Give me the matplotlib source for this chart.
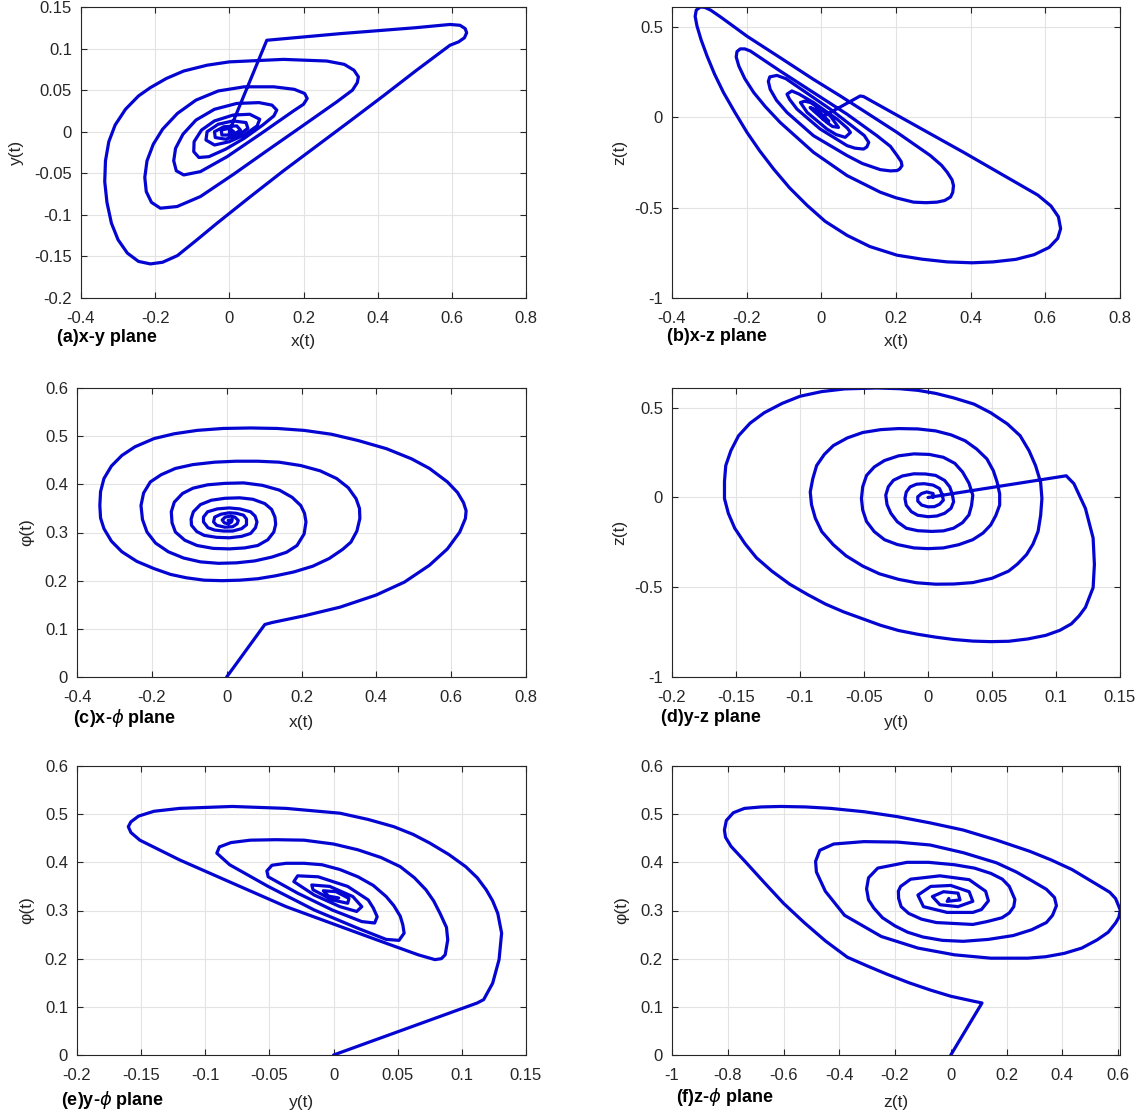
import numpy as np
import matplotlib
matplotlib.use("Agg")
import matplotlib.pyplot as plt

plt.rcParams['font.family'] = ['Liberation Sans', 'DejaVu Sans']
plt.rcParams['axes.unicode_minus'] = False

# trajectory points
xy_path = [(0.0, 0.0), (0.012, 0.014), (0.101, 0.110), (0.300, 0.118), (0.500, 0.125), (0.595, 0.129),
           (0.622, 0.128), (0.636, 0.124), (0.640, 0.119), (0.634, 0.113), (0.618, 0.108), (0.595, 0.104),
           (0.505, 0.074), (0.415, 0.043), (0.326, 0.013), (0.236, -0.017), (0.146, -0.047), (0.057, -0.078),
           (-0.033, -0.110), (-0.090, -0.131), (-0.140, -0.149), (-0.180, -0.157), (-0.213, -0.159),
           (-0.245, -0.156), (-0.275, -0.146), (-0.300, -0.130), (-0.318, -0.110), (-0.330, -0.085),
           (-0.336, -0.060), (-0.334, -0.035), (-0.325, -0.012), (-0.308, 0.008), (-0.280, 0.027),
           (-0.245, 0.043), (-0.213, 0.053), (-0.170, 0.064), (-0.123, 0.073), (-0.060, 0.080), (0.0, 0.084),
           (0.146, 0.087), (0.263, 0.085), (0.310, 0.081), (0.336, 0.074), (0.348, 0.066), (0.345, 0.059),
           (0.332, 0.050), (0.290, 0.036), (0.191, 0.005), (0.101, -0.023), (0.012, -0.051), (-0.078, -0.078),
           (-0.141, -0.090), (-0.186, -0.092), (-0.210, -0.085), (-0.224, -0.072), (-0.228, -0.055),
           (-0.222, -0.035), (-0.205, -0.015), (-0.180, 0.003), (-0.140, 0.022), (-0.090, 0.038),
           (-0.030, 0.049), (0.040, 0.054), (0.120, 0.054), (0.175, 0.051), (0.203, 0.046), (0.210, 0.040),
           (0.200, 0.033), (0.173, 0.025), (0.083, -0.003), (-0.006, -0.030), (-0.078, -0.048), (-0.123, -0.052),
           (-0.143, -0.047), (-0.150, -0.035), (-0.145, -0.020), (-0.125, -0.003), (-0.090, 0.014),
           (-0.040, 0.027), (0.020, 0.034), (0.080, 0.035), (0.115, 0.032), (0.128, 0.026), (0.120, 0.019),
           (0.090, 0.008), (0.040, -0.008), (-0.010, -0.021), (-0.055, -0.030), (-0.082, -0.031),
           (-0.096, -0.024), (-0.095, -0.012), (-0.075, 0.002), (-0.040, 0.013), (0.010, 0.020), (0.055, 0.021),
           (0.082, 0.015), (0.075, 0.007), (0.040, -0.004), (0.0, -0.012), (-0.040, -0.016), (-0.063, -0.010),
           (-0.060, 0.0), (-0.030, 0.009), (0.010, 0.013), (0.045, 0.011), (0.050, 0.004), (0.025, -0.004),
           (-0.010, -0.009), (-0.038, -0.007), (-0.040, 0.0), (-0.015, 0.006), (0.020, 0.007), (0.030, 0.002),
           (0.010, -0.004), (-0.020, -0.004), (-0.022, 0.002), (0.0, 0.004), (0.012, 0.0), (0.0, -0.002)]

xz_path = [(0.0, 0.0), (0.104, 0.119), (0.113, 0.116), (0.381, -0.193), (0.580, -0.430), (0.615, -0.490),
           (0.635, -0.550), (0.641, -0.616), (0.633, -0.670), (0.610, -0.720), (0.570, -0.760), (0.521, -0.786),
           (0.460, -0.800), (0.404, -0.805), (0.337, -0.800), (0.270, -0.785), (0.203, -0.763), (0.130, -0.715),
           (0.069, -0.653), (0.010, -0.575), (-0.038, -0.487), (-0.085, -0.390), (-0.128, -0.285),
           (-0.165, -0.185), (-0.199, -0.083), (-0.232, 0.030), (-0.262, 0.138), (-0.286, 0.240),
           (-0.306, 0.340), (-0.322, 0.430), (-0.333, 0.506), (-0.338, 0.560), (-0.335, 0.595), (-0.324, 0.612),
           (-0.312, 0.610), (-0.296, 0.594), (-0.270, 0.557), (-0.240, 0.512), (-0.199, 0.450), (-0.110, 0.331),
           (-0.021, 0.211), (0.051, 0.119), (0.113, 0.037), (0.203, -0.083), (0.292, -0.211), (0.322, -0.265),
           (0.337, -0.303), (0.350, -0.345), (0.354, -0.377), (0.352, -0.415), (0.346, -0.441), (0.330, -0.460),
           (0.310, -0.469), (0.280, -0.472), (0.247, -0.469), (0.200, -0.445), (0.158, -0.414), (0.069, -0.322),
           (-0.021, -0.193), (-0.110, -0.028), (-0.150, 0.060), (-0.181, 0.138), (-0.205, 0.215),
           (-0.221, 0.285), (-0.228, 0.335), (-0.226, 0.365), (-0.217, 0.380), (-0.205, 0.380), (-0.190, 0.368),
           (-0.110, 0.257), (-0.021, 0.138), (0.069, 0.018), (0.149, -0.101), (0.185, -0.160), (0.203, -0.211),
           (0.214, -0.245), (0.216, -0.267), (0.210, -0.285), (0.203, -0.294), (0.185, -0.296), (0.158, -0.289),
           (0.110, -0.255), (0.069, -0.211), (-0.021, -0.101), (-0.092, 0.028), (-0.120, 0.095), (-0.137, 0.156),
           (-0.142, 0.200), (-0.138, 0.225), (-0.119, 0.233), (-0.095, 0.215), (-0.047, 0.147), (0.024, 0.046),
           (0.087, -0.055), (0.115, -0.100), (0.127, -0.138), (0.122, -0.163), (0.113, -0.175), (0.090, -0.170),
           (0.069, -0.156), (-0.003, -0.064), (-0.065, 0.046), (-0.085, 0.100), (-0.092, 0.129), (-0.079, 0.147),
           (-0.060, 0.130), (-0.021, 0.083), (0.042, -0.009), (0.070, -0.060), (0.078, -0.083), (0.064, -0.110),
           (0.040, -0.095), (0.015, -0.064), (-0.038, 0.028), (-0.056, 0.083), (-0.045, 0.090), (-0.029, 0.083),
           (0.024, 0.009), (0.046, -0.055), (0.030, -0.050), (0.015, -0.028), (-0.021, 0.037), (-0.030, 0.055),
           (-0.010, 0.040), (0.020, -0.020), (0.005, -0.010), (0.0, 0.009)]

xphi_path = [(0.0, 0.0), (0.102, 0.109), (0.121, 0.113), (0.207, 0.127), (0.303, 0.145), (0.399, 0.170),
             (0.475, 0.197), (0.542, 0.232), (0.590, 0.266), (0.623, 0.301), (0.638, 0.329), (0.640, 0.345),
             (0.633, 0.362), (0.617, 0.383), (0.590, 0.405), (0.542, 0.433), (0.494, 0.453), (0.427, 0.474),
             (0.351, 0.491), (0.280, 0.504), (0.207, 0.512), (0.135, 0.516), (0.064, 0.517), (-0.010, 0.516),
             (-0.079, 0.512), (-0.140, 0.505), (-0.194, 0.495), (-0.245, 0.478), (-0.280, 0.460), (-0.308, 0.438),
             (-0.328, 0.412), (-0.337, 0.385), (-0.339, 0.356), (-0.337, 0.330), (-0.328, 0.308), (-0.308, 0.282),
             (-0.280, 0.260), (-0.240, 0.240), (-0.194, 0.225), (-0.150, 0.213), (-0.108, 0.206), (-0.060, 0.201),
             (-0.012, 0.200), (0.035, 0.201), (0.083, 0.204), (0.130, 0.210), (0.179, 0.218), (0.230, 0.230),
             (0.274, 0.246), (0.310, 0.265), (0.332, 0.280), (0.348, 0.303), (0.356, 0.329), (0.355, 0.350),
             (0.346, 0.370), (0.325, 0.393), (0.294, 0.412), (0.250, 0.428), (0.198, 0.439), (0.140, 0.446),
             (0.083, 0.448), (0.025, 0.448), (-0.032, 0.446), (-0.090, 0.441), (-0.137, 0.433), (-0.175, 0.420),
             (-0.204, 0.405), (-0.222, 0.382), (-0.229, 0.356), (-0.225, 0.327), (-0.213, 0.301), (-0.190, 0.278),
             (-0.156, 0.260), (-0.115, 0.247), (-0.070, 0.239), (-0.022, 0.236), (0.026, 0.237), (0.075, 0.241),
             (0.121, 0.249), (0.160, 0.259), (0.188, 0.273), (0.207, 0.297), (0.212, 0.322), (0.208, 0.340),
             (0.198, 0.356), (0.175, 0.373), (0.141, 0.388), (0.095, 0.398), (0.045, 0.403), (-0.005, 0.402),
             (-0.051, 0.399), (-0.090, 0.392), (-0.118, 0.381), (-0.140, 0.363), (-0.148, 0.343), (-0.146, 0.320),
             (-0.137, 0.301), (-0.112, 0.284), (-0.079, 0.273), (-0.036, 0.267), (0.007, 0.266), (0.048, 0.268),
             (0.083, 0.273), (0.110, 0.285), (0.126, 0.301), (0.131, 0.317), (0.129, 0.332), (0.120, 0.348),
             (0.102, 0.360), (0.070, 0.369), (0.035, 0.372), (-0.005, 0.371), (-0.041, 0.367), (-0.070, 0.358),
             (-0.089, 0.343), (-0.095, 0.328), (-0.094, 0.315), (-0.080, 0.302), (-0.060, 0.294), (-0.027, 0.290),
             (0.007, 0.289), (0.040, 0.292), (0.064, 0.298), (0.077, 0.310), (0.081, 0.322), (0.076, 0.334),
             (0.064, 0.343), (0.035, 0.349), (0.007, 0.351), (-0.025, 0.349), (-0.051, 0.343), (-0.062, 0.332),
             (-0.062, 0.322), (-0.050, 0.310), (-0.032, 0.305), (-0.008, 0.303), (0.016, 0.303), (0.040, 0.308),
             (0.053, 0.316), (0.053, 0.328), (0.045, 0.336), (0.025, 0.340), (0.007, 0.341), (-0.015, 0.338),
             (-0.032, 0.332), (-0.035, 0.322), (-0.027, 0.315), (-0.005, 0.311), (0.016, 0.312), (0.028, 0.318),
             (0.031, 0.325), (0.022, 0.332), (0.010, 0.334), (-0.004, 0.332), (-0.012, 0.326), (-0.006, 0.320),
             (0.005, 0.318), (0.013, 0.322), (0.015, 0.327), (0.004, 0.325)]

yz_path = [(0.0, 0.0), (0.108, 0.121), (0.114, 0.077), (0.123, -0.061), (0.129, -0.226), (0.130, -0.373),
           (0.129, -0.502), (0.123, -0.612), (0.118, -0.660), (0.112, -0.704), (0.103, -0.740), (0.092, -0.768),
           (0.078, -0.788), (0.063, -0.801), (0.049, -0.803), (0.035, -0.800), (0.020, -0.791), (0.006, -0.778),
           (-0.008, -0.762), (-0.023, -0.741), (-0.037, -0.712), (-0.051, -0.676), (-0.066, -0.637),
           (-0.080, -0.594), (-0.094, -0.541), (-0.108, -0.483), (-0.122, -0.410), (-0.134, -0.336),
           (-0.143, -0.257), (-0.151, -0.171), (-0.156, -0.088), (-0.159, -0.006), (-0.159, 0.090),
           (-0.158, 0.178), (-0.154, 0.261), (-0.148, 0.344), (-0.139, 0.414), (-0.128, 0.472), (-0.114, 0.524),
           (-0.100, 0.564), (-0.083, 0.590), (-0.065, 0.605), (-0.040, 0.610), (-0.022, 0.606), (-0.008, 0.597),
           (0.006, 0.580), (0.020, 0.555), (0.036, 0.520), (0.049, 0.472), (0.062, 0.410), (0.072, 0.344),
           (0.079, 0.260), (0.084, 0.178), (0.088, 0.085), (0.089, -0.006), (0.088, -0.100), (0.086, -0.189),
           (0.082, -0.260), (0.077, -0.318), (0.070, -0.370), (0.063, -0.410), (0.050, -0.450), (0.035, -0.474),
           (0.020, -0.482), (0.006, -0.483), (-0.009, -0.475), (-0.023, -0.456), (-0.038, -0.425),
           (-0.051, -0.382), (-0.064, -0.325), (-0.074, -0.263), (-0.083, -0.190), (-0.088, -0.116),
           (-0.091, -0.040), (-0.092, 0.031), (-0.090, 0.105), (-0.087, 0.178), (-0.081, 0.240), (-0.074, 0.289),
           (-0.063, 0.332), (-0.051, 0.362), (-0.037, 0.378), (-0.023, 0.384), (-0.008, 0.382), (0.006, 0.371),
           (0.018, 0.349), (0.029, 0.316), (0.038, 0.270), (0.046, 0.215), (0.051, 0.150), (0.054, 0.086),
           (0.056, 0.020), (0.056, -0.042), (0.053, -0.100), (0.049, -0.153), (0.043, -0.198), (0.035, -0.235),
           (0.024, -0.263), (0.012, -0.281), (0.0, -0.285), (-0.011, -0.281), (-0.024, -0.262), (-0.034, -0.235),
           (-0.042, -0.190), (-0.048, -0.134), (-0.051, -0.070), (-0.052, -0.006), (-0.051, 0.060),
           (-0.048, 0.123), (-0.042, 0.170), (-0.034, 0.206), (-0.023, 0.232), (-0.011, 0.243), (0.001, 0.240),
           (0.012, 0.224), (0.021, 0.190), (0.027, 0.142), (0.032, 0.080), (0.035, 0.013), (0.034, -0.045),
           (0.032, -0.097), (0.027, -0.140), (0.020, -0.171), (0.012, -0.186), (0.003, -0.189), (-0.008, -0.185),
           (-0.017, -0.171), (-0.024, -0.135), (-0.029, -0.088), (-0.032, -0.040), (-0.033, 0.013),
           (-0.031, 0.060), (-0.027, 0.096), (-0.020, 0.120), (-0.011, 0.132), (-0.002, 0.131), (0.006, 0.123),
           (0.013, 0.095), (0.017, 0.059), (0.019, 0.018), (0.020, -0.024), (0.018, -0.060), (0.013, -0.088),
           (0.007, -0.103), (0.0, -0.107), (-0.008, -0.099), (-0.013, -0.079), (-0.017, -0.043), (-0.018, -0.006),
           (-0.017, 0.030), (-0.014, 0.059), (-0.009, 0.074), (-0.003, 0.077), (0.004, 0.069), (0.009, 0.050),
           (0.011, 0.018), (0.012, -0.015), (0.009, -0.038), (0.005, -0.051), (0.0, -0.052), (-0.005, -0.042),
           (-0.008, -0.020), (-0.008, 0.004), (-0.005, 0.022), (-0.001, 0.031), (0.004, 0.022), (0.004, 0.0)]

yphi_path = [(0.0, 0.0), (0.112, 0.108), (0.117, 0.115), (0.124, 0.149), (0.129, 0.198), (0.131, 0.253),
             (0.128, 0.294), (0.124, 0.320), (0.119, 0.343), (0.112, 0.368), (0.103, 0.391), (0.090, 0.416),
             (0.075, 0.440), (0.062, 0.458), (0.047, 0.474), (0.027, 0.489), (0.005, 0.502), (-0.037, 0.512),
             (-0.079, 0.516), (-0.120, 0.512), (-0.140, 0.506), (-0.152, 0.496), (-0.158, 0.484),
             (-0.160, 0.474), (-0.158, 0.462), (-0.151, 0.446), (-0.120, 0.405), (-0.079, 0.357), (-0.037, 0.308),
             (0.005, 0.267), (0.041, 0.232), (0.066, 0.208), (0.079, 0.198), (0.084, 0.200), (0.087, 0.208),
             (0.089, 0.239), (0.088, 0.265), (0.083, 0.294), (0.078, 0.320), (0.072, 0.343), (0.063, 0.368),
             (0.052, 0.391), (0.037, 0.410), (0.019, 0.426), (0.000, 0.438), (-0.023, 0.446), (-0.045, 0.447),
             (-0.065, 0.446), (-0.080, 0.441), (-0.089, 0.432), (-0.091, 0.419), (-0.081, 0.395), (-0.051, 0.350),
             (-0.015, 0.301), (0.019, 0.263), (0.041, 0.240), (0.051, 0.238), (0.055, 0.253), (0.054, 0.270),
             (0.052, 0.288), (0.047, 0.310), (0.041, 0.329), (0.031, 0.352), (0.019, 0.370), (0.005, 0.385),
             (-0.009, 0.395), (-0.023, 0.398), (-0.037, 0.398), (-0.048, 0.394), (-0.052, 0.382), (-0.051, 0.370),
             (-0.028, 0.336), (-0.001, 0.301), (0.022, 0.277), (0.032, 0.274), (0.034, 0.287), (0.031, 0.305),
             (0.027, 0.322), (0.011, 0.350), (-0.012, 0.370), (-0.028, 0.372), (-0.031, 0.360), (-0.015, 0.332),
             (0.005, 0.308), (0.018, 0.298), (0.022, 0.308), (0.015, 0.329), (-0.003, 0.350), (-0.017, 0.353),
             (-0.016, 0.343), (-0.001, 0.322), (0.011, 0.315), (0.012, 0.325), (0.002, 0.339), (-0.008, 0.341),
             (-0.004, 0.330), (0.004, 0.326)]

zphi_path = [(0.0, 0.0), (0.112, 0.108), (0.079, 0.112), (0.0, 0.122), (-0.074, 0.135), (-0.150, 0.150),
             (-0.230, 0.168), (-0.300, 0.185), (-0.371, 0.203), (-0.450, 0.237), (-0.526, 0.275),
             (-0.600, 0.315), (-0.669, 0.358), (-0.735, 0.400), (-0.788, 0.433), (-0.808, 0.452), (-0.812, 0.467),
             (-0.805, 0.487), (-0.780, 0.503), (-0.740, 0.512), (-0.680, 0.515), (-0.610, 0.516), (-0.520, 0.515),
             (-0.431, 0.512), (-0.310, 0.505), (-0.193, 0.495), (-0.075, 0.482), (0.045, 0.467), (0.165, 0.446),
             (0.283, 0.423), (0.360, 0.405), (0.435, 0.385), (0.530, 0.352), (0.570, 0.338), (0.591, 0.325),
             (0.608, 0.301), (0.603, 0.286), (0.591, 0.274), (0.565, 0.255), (0.525, 0.239), (0.470, 0.222),
             (0.407, 0.211), (0.340, 0.204), (0.276, 0.201), (0.144, 0.201), (0.013, 0.208), (-0.118, 0.222),
             (-0.249, 0.246), (-0.381, 0.290), (-0.450, 0.340), (-0.482, 0.380), (-0.485, 0.402), (-0.470, 0.425),
             (-0.420, 0.438), (-0.312, 0.443), (-0.190, 0.442), (-0.074, 0.436), (0.045, 0.420), (0.164, 0.399),
             (0.235, 0.380), (0.290, 0.362), (0.343, 0.344), (0.372, 0.327), (0.379, 0.310), (0.365, 0.290),
             (0.343, 0.275), (0.290, 0.260), (0.224, 0.248), (0.135, 0.240), (0.045, 0.236), (-0.030, 0.238),
             (-0.100, 0.245), (-0.155, 0.255), (-0.200, 0.268), (-0.245, 0.285), (-0.276, 0.305), (-0.295, 0.322),
             (-0.302, 0.345), (-0.295, 0.368), (-0.262, 0.388), (-0.157, 0.400), (-0.080, 0.400), (0.013, 0.395),
             (0.085, 0.388), (0.144, 0.377), (0.185, 0.365), (0.210, 0.350), (0.230, 0.323), (0.226, 0.308),
             (0.210, 0.295), (0.184, 0.285), (0.130, 0.277), (0.079, 0.271), (-0.052, 0.275), (-0.105, 0.282),
             (-0.151, 0.294), (-0.178, 0.308), (-0.187, 0.325), (-0.188, 0.340), (-0.180, 0.350), (-0.144, 0.365),
             (-0.039, 0.372), (0.066, 0.364), (0.125, 0.340), (0.135, 0.320), (0.110, 0.302), (0.079, 0.296),
             (-0.013, 0.296), (-0.098, 0.308), (-0.118, 0.332), (-0.072, 0.350), (0.0, 0.352), (0.066, 0.339),
             (0.079, 0.319), (0.026, 0.308), (-0.039, 0.312), (-0.066, 0.329), (-0.026, 0.339), (0.026, 0.336),
             (0.033, 0.322), (-0.013, 0.319), (-0.007, 0.325)]

paths = [xy_path, xz_path, xphi_path, yz_path, yphi_path, zphi_path]

x_labels = ['x(t)', 'x(t)', 'x(t)', 'y(t)', 'y(t)', 'z(t)']
y_labels = ['y(t)', 'z(t)', 'φ(t)', 'z(t)', 'φ(t)', 'φ(t)']
panel_names = ['(a)x-y plane', '(b)x-z plane', r'(c)x-$\phi$ plane',
               '(d)y-z plane', r'(e)y-$\phi$ plane', r'(f)z-$\phi$ plane']

x_ticks = [[-0.4, -0.2, 0, 0.2, 0.4, 0.6, 0.8]] * 3 + [[-0.2, -0.15, -0.1, -0.05, 0, 0.05, 0.1, 0.15]] * 2 \
    + [[-1, -0.8, -0.6, -0.4, -0.2, 0, 0.2, 0.4, 0.6]]
y_ticks = [[-0.2, -0.15, -0.1, -0.05, 0, 0.05, 0.1, 0.15], [-1, -0.5, 0, 0.5],
           [0, 0.1, 0.2, 0.3, 0.4, 0.5, 0.6], [-1, -0.5, 0, 0.5],
           [0, 0.1, 0.2, 0.3, 0.4, 0.5, 0.6], [0, 0.1, 0.2, 0.3, 0.4, 0.5, 0.6]]
x_lims = [(-0.4, 0.8), (-0.4, 0.8), (-0.4, 0.8), (-0.2, 0.15), (-0.2, 0.15), (-1, 0.607)]
y_lims = [(-0.2, 0.15), (-1, 0.612), (0, 0.6), (-1, 0.61), (0, 0.6), (0, 0.6)]

# layout in pixels: left, top, right, bottom
W, H = 1143, 1114
boxes = [(81, 7, 526, 298), (672, 7, 1120, 298),
         (77, 388, 526, 677), (672, 388, 1120, 677),
         (77, 766, 526, 1055), (672, 766, 1120, 1055)]
name_pos = [(57, 338), (667, 337), (73, 718), (661, 718), (61, 1100), (676, 1097)]
xlab_y = [-0.151, -0.151, -0.159, -0.159, -0.163, -0.163]
ylab_x = [-0.146, -0.117, -0.112, -0.117, -0.112, -0.113]


def fmt(v):
    s = ('%.2f' % v).rstrip('0').rstrip('.')
    return '0' if s in ('-0', '0') else s


fig = plt.figure(figsize=(W / 100, H / 100), dpi=100)
for i in range(6):
    l, t, r, b = boxes[i]
    ax = fig.add_axes([l / W, 1 - b / H, (r - l) / W, (b - t) / H])
    pts = np.array(paths[i])
    ax.plot(pts[:, 0], pts[:, 1], color='#0505d2', lw=2.3,
            solid_joinstyle='round', solid_capstyle='round')
    ax.set_xlim(*x_lims[i])
    ax.set_ylim(*y_lims[i])
    ax.set_xticks(x_ticks[i])
    ax.set_xticklabels([fmt(v) for v in x_ticks[i]])
    ax.set_yticks(y_ticks[i])
    ax.set_yticklabels([fmt(v) for v in y_ticks[i]])
    ax.grid(True, color='#e3e3e3', lw=0.8)
    ax.set_axisbelow(True)
    ax.tick_params(direction='in', top=True, right=True, length=4, width=0.8,
                   colors='#262626', labelsize=12)
    ax.tick_params(axis='x', pad=9.5)
    ax.tick_params(axis='y', pad=6.5)
    for sp in ax.spines.values():
        sp.set_color('#262626')
        sp.set_linewidth(0.8)
    ax.set_xlabel(x_labels[i], fontsize=12.5, color='#262626', va='center')
    ax.xaxis.set_label_coords(0.5, xlab_y[i])
    ax.set_ylabel(y_labels[i], fontsize=12.5, color='#262626', va='center')
    ax.yaxis.set_label_coords(ylab_x[i], 0.5)
    fig.text(name_pos[i][0] / W, 1 - name_pos[i][1] / H, panel_names[i],
             fontsize=13, fontweight='bold', ha='left', va='center')

fig.savefig('out.png', dpi=100)
